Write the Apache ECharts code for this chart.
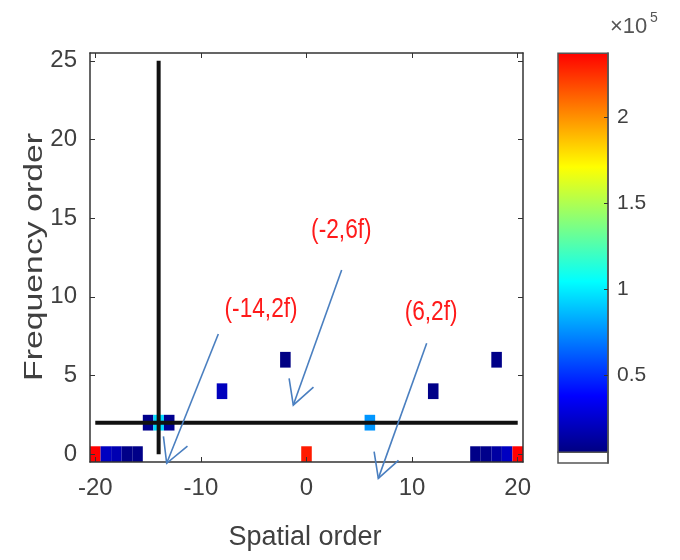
<!DOCTYPE html>
<html><head><meta charset="utf-8">
<script src="https://cdn.jsdelivr.net/npm/echarts@6/dist/echarts.min.js"></script>
<style>html,body{margin:0;padding:0;background:#fff}#c{width:680px;height:560px}</style>
</head><body><div id="c"></div>
<script>
// ---- data ----
const xTicks = [-20, -10, 0, 10, 20];
const yTicks = [0, 5, 10, 15, 20, 25];
const cellX = [-20, -19, -18, -17, -16, 0, 16, 17, 18, 19, 20, -15, -14, -13, 6, -8, 12, -2, 18];
const cellY = [0, 0, 0, 0, 0, 0, 0, 0, 0, 0, 0, 2, 2, 2, 2, 4, 4, 6, 6];
const cellValue = [2.37e5, 0.22e5, 0.18e5, 0.07e5, 0.07e5, 2.3e5, 0.07e5, 0.08e5, 0.14e5, 0.22e5, 2.37e5,
                   0.08e5, 0.95e5, 0.09e5, 0.77e5, 0.21e5, 0.07e5, 0.06e5, 0.07e5];
const colorMin = 0.05e5, colorMax = 2.37e5;
const cbAxisMin = -0.012e5, cbAxisMax = 2.372e5;
const cbTicks = [0.5e5, 1e5, 1.5e5, 2e5];
const jetColors = ['#000080', '#0000ff', '#0080ff', '#00ffff', '#80ff80', '#ffff00', '#ff8000', '#ff0000'];
const vLineX = [-14, -14], vLineY = [0, 25];
const hLineX = [-20, 20], hLineY = [2, 2];
const annotText = ['(-14,2f)', '(-2,6f)', '(6,2f)'];
const annotTextX = [-4.3, 3.3, 11.8];
const annotTextY = [9.2, 14.2, 9.0];
const arrowStartX = [-8.35, 3.33, 11.38];
const arrowStartY = [7.64, 11.7, 7.05];
const arrowTipX = [-13.24, -1.25, 6.8];
const arrowTipY = [-0.58, 3.12, -1.54];

const chart = echarts.init(document.getElementById('c'), null, {renderer: 'canvas'});
const tickFont = '"Liberation Sans", Arial, sans-serif';
const axisCol = '#333';
const labelCol = '#404040';

const cellData = cellX.map((x, i) => [x, cellY[i], cellValue[i]]);
const annotData = annotText.map((t, i) => [arrowStartX[i], arrowStartY[i], arrowTipX[i], arrowTipY[i], annotTextX[i], annotTextY[i]]);

const frameAxis = (extra) => Object.assign({
  type: 'value', z: 5,
  axisLine: {show: true, onZero: false, lineStyle: {color: axisCol, width: 1.5}},
  splitLine: {show: false}
}, extra);

chart.setOption({
  animation: false,
  backgroundColor: '#fff',
  grid: [
    {left: 90, top: 53, width: 433, height: 409, show: false},
    {left: 558, top: 53, width: 50, height: 410, show: false}
  ],
  visualMap: {
    type: 'continuous', show: false, min: colorMin, max: colorMax,
    dimension: 2, seriesIndex: 0, inRange: {color: jetColors}
  },
  xAxis: [
    frameAxis({gridIndex: 0, position: 'bottom', min: -20.5, max: 20.5,
      axisTick: {show: true, inside: true, length: 5, customValues: xTicks, lineStyle: {color: axisCol}},
      axisLabel: {customValues: xTicks, fontSize: 24, fontFamily: tickFont, color: labelCol, margin: 14}}),
    frameAxis({gridIndex: 0, position: 'top', min: -20.5, max: 20.5,
      axisTick: {show: true, inside: true, length: 5, customValues: xTicks, lineStyle: {color: axisCol}},
      axisLabel: {show: false}}),
    {type: 'value', gridIndex: 1, min: 0, max: 1, show: false}
  ],
  yAxis: [
    frameAxis({gridIndex: 0, position: 'left', min: -0.5, max: 25.5,
      axisTick: {show: true, inside: true, length: 5, customValues: yTicks, lineStyle: {color: axisCol}},
      axisLabel: {customValues: yTicks, fontSize: 24, fontFamily: tickFont, color: labelCol, margin: 13}}),
    frameAxis({gridIndex: 0, position: 'right', min: -0.5, max: 25.5,
      axisTick: {show: true, inside: true, length: 5, customValues: yTicks, lineStyle: {color: axisCol}},
      axisLabel: {show: false}}),
    {type: 'value', gridIndex: 1, position: 'right', min: cbAxisMin, max: cbAxisMax, z: 5,
      axisLine: {show: true, onZero: false, lineStyle: {color: '#555', width: 1.5}},
      axisTick: {show: true, inside: true, length: 4, customValues: cbTicks, lineStyle: {color: '#333'}},
      axisLabel: {customValues: cbTicks, fontSize: 21, fontFamily: tickFont, color: labelCol, margin: 9,
        formatter: v => String(+(v / 1e5).toFixed(1))},
      splitLine: {show: false}}
  ],
  graphic: [
    {type: 'text', x: 35, y: 257, rotation: Math.PI / 2, scaleX: 1.3,
      style: {text: 'Frequency order', font: '26px "Liberation Sans", Arial, sans-serif', fill: labelCol, align: 'center', verticalAlign: 'middle'}},
    {type: 'text', x: 305, y: 538,
      style: {text: 'Spatial order', font: '27px "Liberation Sans", Arial, sans-serif', fill: labelCol, align: 'center', verticalAlign: 'middle'}},
    {type: 'text', x: 610, y: 27,
      style: {text: '×10', font: '22px "Liberation Sans", Arial, sans-serif', fill: '#555', align: 'left', verticalAlign: 'middle'}},
    {type: 'text', x: 650, y: 18,
      style: {text: '5', font: '14px "Liberation Sans", Arial, sans-serif', fill: '#555', align: 'left', verticalAlign: 'middle'}}
  ],
  series: [
    {
      type: 'custom', xAxisIndex: 0, yAxisIndex: 0, data: cellData,
      encode: {x: 0, y: 1},
      renderItem(params, api) {
        const p = api.coord([api.value(0) - 0.5, api.value(1) + 0.5]);
        const s = api.size([1, 1]);
        return {type: 'rect', shape: {x: p[0], y: p[1], width: s[0], height: s[1]}, style: {fill: api.visual('color')}};
      }
    },
    {type: 'line', xAxisIndex: 0, yAxisIndex: 0, symbol: 'none', z: 4,
      data: vLineX.map((x, i) => [x, vLineY[i]]), lineStyle: {color: '#111', width: 4}},
    {type: 'line', xAxisIndex: 0, yAxisIndex: 0, symbol: 'none', z: 4,
      data: hLineX.map((x, i) => [x, hLineY[i]]), lineStyle: {color: '#111', width: 4}},
    {
      type: 'custom', xAxisIndex: 0, yAxisIndex: 0, data: annotData, clip: false, z: 6,
      encode: {x: 0, y: 1},
      renderItem(params, api) {
        const s = api.coord([api.value(0), api.value(1)]);
        const t = api.coord([api.value(2), api.value(3)]);
        const l = api.coord([api.value(4), api.value(5)]);
        const ang = Math.atan2(s[1] - t[1], s[0] - t[0]);
        const L = 27, a = 0.5;
        const w1 = [t[0] + L * Math.cos(ang + a), t[1] + L * Math.sin(ang + a)];
        const w2 = [t[0] + L * Math.cos(ang - a), t[1] + L * Math.sin(ang - a)];
        const ls = {stroke: '#4a7fc0', lineWidth: 1.6, fill: null};
        return {type: 'group', children: [
          {type: 'polyline', shape: {points: [s, t]}, style: ls},
          {type: 'polyline', shape: {points: [w1, t, w2]}, style: ls},
          {type: 'text', x: l[0], y: l[1], scaleX: 0.84,
            style: {text: annotText[params.dataIndex], x: 0, y: 0, align: 'center', verticalAlign: 'middle',
              fill: '#ff1a1a', font: '27px "Liberation Sans", Arial, sans-serif'}}
        ]};
      }
    },
    {
      type: 'custom', xAxisIndex: 2, yAxisIndex: 2, data: [[0, colorMin, colorMax]],
      encode: {x: 0, y: 1},
      renderItem(params, api) {
        const lo = api.coord([0, api.value(1)]);
        const hi = api.coord([1, api.value(2)]);
        const base = api.coord([0, cbAxisMin]);
        const w = hi[0] - lo[0];
        return {type: 'group', children: [
          {type: 'rect', shape: {x: lo[0], y: lo[1], width: w, height: base[1] - lo[1]}, style: {fill: '#fff', stroke: '#555', lineWidth: 1.5}},
          {type: 'rect', shape: {x: lo[0], y: hi[1], width: w, height: lo[1] - hi[1]},
            style: {fill: new echarts.graphic.LinearGradient(0, 1, 0, 0, jetColors.map((c, i) => ({offset: i / (jetColors.length - 1), color: c}))), stroke: '#555', lineWidth: 1.5}}
        ]};
      }
    }
  ]
});
</script></body></html>
